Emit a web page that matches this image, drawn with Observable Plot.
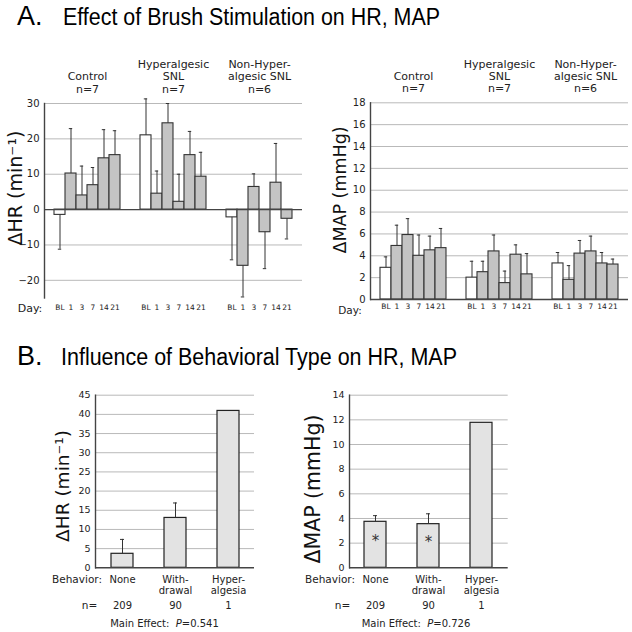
<!DOCTYPE html>
<html><head><meta charset="utf-8">
<script src="https://cdn.jsdelivr.net/npm/d3@7"></script>
<script src="https://cdn.jsdelivr.net/npm/@observablehq/plot@0.6"></script>
<style>
body{margin:0;background:#fff;}
#fig{position:relative;width:632px;height:632px;overflow:hidden;font-family:"DejaVu Sans",Verdana,sans-serif;color:#222;}
.p{position:absolute;}
.lbl{position:absolute;white-space:nowrap;transform:translate(-50%,-50%);line-height:1;}
.lblr{position:absolute;white-space:nowrap;transform:translate(-100%,-50%);line-height:1;}
.ylab{position:absolute;white-space:nowrap;transform:translate(-50%,-50%) rotate(-90deg);font-size:19px;color:#111;}
svg.title{position:absolute;left:0;overflow:visible;}
</style></head>
<body>
<div id="fig"></div>
<script>
// ---- data ----
const groups = ["Control", "Hyperalgesic SNL", "Non-Hyperalgesic SNL"];
const groupHeaders = ["Control\nn=7", "Hyperalgesic\nSNL\nn=7", "Non-Hyper-\nalgesic SNL\nn=6"];
const days = ["BL", "1", "3", "7", "14", "21"];
const hrMean = [[-1.5, 10.2, 4.0, 6.9, 14.5, 15.4], [21.0, 4.5, 24.4, 2.2, 15.4, 9.3], [-2.2, -15.9, 6.4, -6.4, 7.6, -2.6]];
const hrErr  = [[9.7, 12.7, 8.3, 5.0, 8.1, 6.9], [10.3, 6.4, 5.6, 7.8, 6.7, 6.9], [12.0, 8.8, 3.7, 10.3, 11.1, 5.7]];
const mapMean = [[2.9, 4.9, 5.9, 4.0, 4.5, 4.7], [2.0, 2.5, 4.4, 1.5, 4.1, 2.3], [3.3, 1.8, 4.2, 4.4, 3.3, 3.2]];
const mapErr  = [[1.0, 1.9, 1.5, 1.9, 1.3, 1.8], [1.5, 1.0, 1.5, 1.1, 0.9, 1.9], [1.0, 1.3, 1.2, 1.4, 1.0, 0.5]];
const hrTicks = [-20, -10, 0, 10, 20, 30];
const mapTicks = [0, 2, 4, 6, 8, 10, 12, 14, 16, 18];
const behaviors = ["None", "Withdrawal", "Hyperalgesia"];
const behaviorLabels = ["None", "With-\ndrawal", "Hyper-\nalgesia"];
const behaviorN = [209, 90, 1];
const bHrMean = [3.65, 13.0, 40.9];
const bHrErr = [3.75, 3.9, null];
const bMapMean = [3.73, 3.54, 11.76];
const bMapErr = [0.5, 0.84, null];
const bMapStar = [true, true, false];
const bHrTicks = [0, 5, 10, 15, 20, 25, 30, 35, 40, 45];
const bMapTicks = [0, 2, 4, 6, 8, 10, 12, 14];

const FONT = "DejaVu Sans, Verdana, sans-serif";
const GRID = "#b9b9b9";
const DARK = "#333";

function rowsA(means, errs) {
  const rows = [];
  groups.forEach((g, i) => days.forEach((d, j) => {
    const m = means[i][j], e = errs[i][j];
    rows.push({group: g, day: d, value: m, end: m + Math.sign(m) * e, base: j === 0});
  }));
  return rows;
}

function panelA(o) {
  const rows = rowsA(o.means, o.errs);
  return Plot.plot({
    width: o.width, height: o.height,
    marginLeft: o.marginLeft, marginRight: o.marginRight, marginTop: o.marginTop, marginBottom: o.marginBottom,
    style: {fontFamily: FONT, color: "#222", background: "transparent", overflow: "visible"},
    fx: {domain: groups, padding: 0, label: null},
    x: {domain: days, paddingInner: 0, paddingOuter: 0.74, label: null},
    y: {domain: o.yDomain, label: null},
    marks: [
      Plot.gridY(o.ticks.filter(t => t !== o.yDomain[0]), {stroke: GRID, strokeOpacity: 1}),
      Plot.barY(rows.filter(d => d.base), {fx: "group", x: "day", y: "value", fill: "white", stroke: DARK, strokeWidth: 1.1}),
      Plot.barY(rows.filter(d => !d.base), {fx: "group", x: "day", y: "value", fill: "#c4c4c4", stroke: DARK, strokeWidth: 1.1}),
      Plot.ruleX(rows, {fx: "group", x: "day", y1: "value", y2: "end", stroke: DARK, strokeWidth: 1}),
      Plot.tickY(rows, {fx: "group", x: "day", y: "end", stroke: DARK, strokeWidth: 1, inset: 3.8}),
      Plot.ruleY([0], {stroke: "#444", strokeWidth: 1.4}),
      Plot.frame({anchor: "left", facetAnchor: "left", stroke: "#444", strokeWidth: 1.4}),
      Plot.axisY(o.ticks, {tickSize: 0, tickPadding: 5, fontSize: 10, label: null}),
      Plot.axisX({tickSize: 0, tickPadding: o.dayPad, fontSize: 7.5, label: null}),
      Plot.axisFx({anchor: "top", tickSize: 0, tickPadding: 11, fontSize: 11, lineHeight: 1.1, label: null,
        tickFormat: d => groupHeaders[groups.indexOf(d)]})
    ]
  });
}

function panelB(o) {
  const rows = behaviors.map((b, i) => ({b, n: behaviorN[i], value: o.means[i], err: o.errs[i],
    end: o.errs[i] == null ? null : o.means[i] + o.errs[i], star: o.stars ? o.stars[i] : false}));
  const withErr = rows.filter(d => d.err != null);
  return Plot.plot({
    width: o.width, height: o.height,
    marginLeft: o.marginLeft, marginRight: o.marginRight, marginTop: o.marginTop, marginBottom: o.marginBottom,
    style: {fontFamily: FONT, color: "#222", background: "transparent", overflow: "visible"},
    x: {domain: behaviors, paddingInner: 0.585, paddingOuter: 0.283, label: null},
    y: {domain: o.yDomain, label: null},
    marks: [
      Plot.gridY(o.ticks.filter(t => t !== 0), {stroke: GRID, strokeOpacity: 1}),
      Plot.barY(rows, {x: "b", y: "value", fill: "#e3e3e3", stroke: "#222", strokeWidth: 1.2}),
      Plot.ruleX(withErr, {x: "b", y1: "value", y2: "end", stroke: DARK, strokeWidth: 1}),
      Plot.tickY(withErr, {x: "b", y: "end", stroke: DARK, strokeWidth: 1, inset: 9}),
      Plot.text(rows.filter(d => d.star), {x: "b", y: d => d.value / 2, text: () => "*", fontSize: 15, dy: -4, fill: "#333"}),
      Plot.ruleY([0], {stroke: "#444", strokeWidth: 1.4}),
      Plot.frame({anchor: "left", stroke: "#444", strokeWidth: 1.4}),
      Plot.axisY(o.ticks, {tickSize: 0, tickPadding: 5, fontSize: 9.5, label: null}),
      Plot.axisX({tickSize: 0, tickPadding: 7, fontSize: 10, lineHeight: 1.15, label: null,
        tickFormat: d => behaviorLabels[behaviors.indexOf(d)]}),
      Plot.text(rows, {x: "b", text: d => String(d.n), frameAnchor: "bottom", lineAnchor: "middle", dy: 38, fontSize: 10})
    ]
  });
}

const fig = document.getElementById("fig");
function place(node, left, top) {
  node.classList.add("p");
  node.style.left = left + "px";
  node.style.top = top + "px";
  fig.appendChild(node);
}
function label(cls, text, x, y, size, html) {
  const d = document.createElement("div");
  d.className = cls;
  d.style.left = x + "px"; d.style.top = y + "px";
  if (size) d.style.fontSize = size + "px";
  if (html) d.innerHTML = text; else d.textContent = text;
  fig.appendChild(d);
  return d;
}
function title(letter, text, top, baseline, textX, textLen) {
  const ns = "http://www.w3.org/2000/svg";
  const s = document.createElementNS(ns, "svg");
  s.setAttribute("class", "title");
  s.setAttribute("width", 632); s.setAttribute("height", 40);
  s.style.top = top + "px";
  const t1 = document.createElementNS(ns, "text");
  t1.setAttribute("x", 17); t1.setAttribute("y", baseline);
  t1.setAttribute("font-family", "Liberation Sans, Arial, sans-serif");
  t1.setAttribute("font-size", 27); t1.textContent = letter;
  const t2 = document.createElementNS(ns, "text");
  t2.setAttribute("x", textX); t2.setAttribute("y", baseline);
  t2.setAttribute("font-family", "Liberation Sans, Arial, sans-serif");
  t2.setAttribute("font-size", 23);
  t2.setAttribute("textLength", textLen); t2.setAttribute("lengthAdjust", "spacingAndGlyphs");
  t2.textContent = text;
  s.appendChild(t1); s.appendChild(t2);
  fig.appendChild(s);
}

title("A.", "Effect of Brush Stimulation on HR, MAP", 0, 25, 63, 377);
title("B.", "Influence of Behavioral Type on HR, MAP", 340, 25, 61, 396);

place(panelA({means: hrMean, errs: hrErr, yDomain: [-25, 30], ticks: hrTicks,
  width: 316, height: 285, marginLeft: 44, marginRight: 14, marginTop: 63, marginBottom: 27.5, dayPad: 6.5}), 0, 40);
place(panelA({means: mapMean, errs: mapErr, yDomain: [0, 18], ticks: mapTicks,
  width: 316, height: 285, marginLeft: 53, marginRight: 4, marginTop: 62.3, marginBottom: 26, dayPad: 4.5}), 316, 40);
place(panelB({means: bHrMean, errs: bHrErr, yDomain: [0, 45], ticks: bHrTicks,
  width: 316, height: 257, marginLeft: 95, marginRight: 62, marginTop: 19.7, marginBottom: 64.7}), 0, 375);
place(panelB({means: bMapMean, errs: bMapErr, stars: bMapStar, yDomain: [0, 14], ticks: bMapTicks,
  width: 316, height: 257, marginLeft: 33, marginRight: 124.3, marginTop: 19.7, marginBottom: 64.7}), 316, 375);

label("ylab", "ΔHR (min⁻¹)", 14.5, 188, 19);
label("ylab", "ΔMAP (mmHg)", 339.5, 190, 17.5);
label("ylab", "ΔHR (min⁻¹)", 61.5, 486, 18.5);
label("ylab", "ΔMAP (mmHg)", 313, 489, 20.5);

label("lbl", "Day:", 30, 308, 11);
label("lbl", "Day:", 350, 309.5, 10.5);
label("lblr", "Behavior:", 102, 579, 10.5);
label("lblr", "Behavior:", 355, 579, 10.5);
label("lbl", "n=", 89.5, 605, 10.5);
label("lbl", "n=", 342.5, 605, 10.5);
label("lbl", "Main Effect:&nbsp; <i>P</i>=0.541", 164.5, 624, 10, true);
label("lbl", "Main Effect:&nbsp; <i>P</i>=0.726", 416, 624, 10, true);
</script>
</body></html>
